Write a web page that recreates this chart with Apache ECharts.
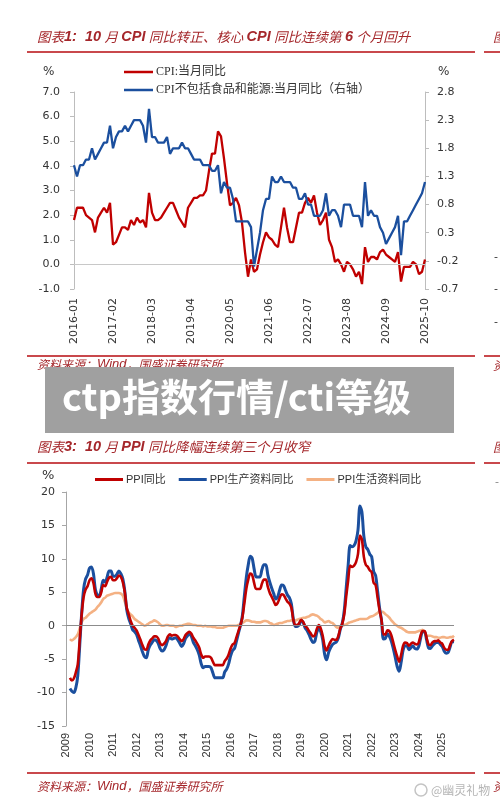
<!DOCTYPE html>
<html lang="zh-CN">
<head>
<meta charset="UTF-8">
<title>CPI / PPI</title>
<script src="https://cdn.jsdelivr.net/npm/echarts@6.0.0/dist/echarts.min.js"></script>
<style>
  html, body { margin: 0; padding: 0; background: #fff; }
  #chart { width: 500px; height: 802px; }
</style>
</head>
<body>
<div id="chart"></div>
<script>
// ---- 图表1: CPI (2016-01 ~ 2025-10) ----
var cpiName = 'CPI:当月同比';
var coreName = 'CPI不包括食品和能源:当月同比（右轴）';
var cpiYoY = [
  1.8,2.3,2.3,2.3,2.0,1.9,1.8,1.3,1.9,2.1,2.3,2.1,
  2.5,0.8,0.9,1.2,1.5,1.5,1.4,1.8,1.6,1.9,1.7,1.8,
  1.5,2.9,2.1,1.8,1.8,1.9,2.1,2.3,2.5,2.5,2.2,1.9,
  1.7,1.5,2.3,2.5,2.7,2.7,2.8,2.8,3.0,3.8,4.5,4.5,
  5.4,5.2,4.3,3.3,2.4,2.5,2.7,2.4,1.7,0.5,-0.5,0.2,
  -0.3,-0.2,0.4,0.9,1.3,1.1,1.0,0.8,0.7,1.5,2.3,1.5,
  0.9,0.9,1.5,2.1,2.1,2.5,2.7,2.5,2.8,2.1,1.6,1.8,
  2.1,1.0,0.7,0.1,0.2,0.0,-0.3,0.1,0.0,-0.2,-0.5,-0.3,
  -0.8,0.7,0.1,0.3,0.3,0.2,0.5,0.6,0.4,0.3,0.2,0.1,
  0.5,-0.7,-0.1,-0.1,-0.1,0.1,0.0,-0.4,-0.3,0.2
];
var coreYoY = [
  1.5,1.3,1.5,1.5,1.6,1.6,1.8,1.6,1.7,1.8,1.9,1.9,
  2.2,1.8,2.0,2.1,2.1,2.2,2.1,2.2,2.3,2.3,2.3,2.2,
  1.9,2.5,2.0,2.0,1.9,1.9,1.9,2.0,1.7,1.8,1.8,1.8,
  1.9,1.8,1.8,1.7,1.6,1.6,1.6,1.5,1.5,1.5,1.4,1.4,
  1.5,1.0,1.2,1.1,1.1,0.9,0.5,0.5,0.5,0.5,0.5,0.4,
  -0.3,0.0,0.3,0.7,0.9,0.9,1.3,1.2,1.2,1.3,1.2,1.2,
  1.2,1.1,1.1,0.9,0.9,1.0,0.8,0.8,0.6,0.6,0.6,0.7,
  1.0,0.6,0.7,0.7,0.6,0.4,0.8,0.8,0.8,0.6,0.6,0.6,
  0.4,1.2,0.6,0.7,0.6,0.6,0.4,0.3,0.1,0.2,0.3,0.4,
  0.6,-0.1,0.5,0.5,0.6,0.7,0.8,0.9,1.0,1.2
];

// ---- 图表3: PPI (2009-06 ~ 2025-10) ----
var ppiName = 'PPI同比';
var prodName = 'PPI生产资料同比';
var consName = 'PPI生活资料同比';
var ppiYoY = [
  -7.8,-8.2,-7.9,-7.0,-5.8,-2.1,1.7,
  4.3,5.4,5.9,6.8,7.1,6.4,4.8,4.3,4.3,5.0,6.1,5.9,
  6.6,7.2,7.3,6.8,6.8,7.1,7.5,7.3,6.5,5.0,2.7,1.7,
  0.7,0.0,-0.3,-0.7,-1.4,-2.1,-2.9,-3.5,-3.6,-2.8,-2.2,-1.9,
  -1.6,-1.6,-1.9,-2.6,-2.9,-2.7,-2.3,-1.6,-1.3,-1.5,-1.4,-1.4,
  -1.6,-2.0,-2.3,-2.0,-1.4,-1.1,-0.9,-1.2,-1.8,-2.2,-2.7,-3.3,
  -4.3,-4.8,-4.6,-4.6,-4.6,-4.8,-5.4,-5.9,-5.9,-5.9,-5.9,-5.9,
  -5.3,-4.9,-4.3,-3.4,-2.8,-2.6,-1.7,-0.8,0.1,1.2,3.3,5.5,
  6.9,7.8,7.6,6.4,5.5,5.5,5.5,6.3,6.9,6.9,5.8,4.9,
  4.3,3.7,3.1,3.4,4.1,4.7,4.6,4.1,3.6,3.3,2.7,0.9,
  0.1,0.1,0.4,0.9,0.6,0.0,-0.3,-0.8,-1.2,-1.6,-1.4,-0.5,
  0.1,-0.4,-1.5,-3.1,-3.7,-3.0,-2.4,-2.0,-2.1,-2.1,-1.5,-0.4,
  0.3,1.7,4.4,6.8,9.0,8.8,9.0,9.5,10.7,13.5,12.9,10.3,
  9.1,8.8,8.3,8.0,6.4,6.1,4.2,2.3,0.9,-1.3,-1.3,-0.7,
  -0.8,-1.4,-2.5,-3.6,-4.6,-5.4,-4.4,-3.0,-2.5,-2.6,-3.0,-2.7,
  -2.5,-2.7,-2.8,-2.5,-1.4,-0.8,-0.8,-1.8,-2.8,-2.9,-2.5,-2.3,
  -2.3,-2.2,-2.5,-2.7,-3.3,-3.6,-3.6,-2.9,-2.3,-2.1
];
var prodYoY = [
  -9.4,-9.8,-10.0,-9.3,-7.5,-3.0,1.9,
  5.5,7.0,7.6,8.6,8.8,7.8,5.4,4.6,4.5,5.5,6.8,6.5,
  7.3,8.2,8.2,7.4,7.4,7.7,8.2,7.8,7.0,5.2,2.4,1.1,
  0.3,-0.6,-0.9,-1.3,-2.2,-3.0,-3.9,-4.6,-4.8,-3.6,-2.9,-2.5,
  -2.1,-2.2,-2.6,-3.4,-3.8,-3.6,-3.0,-2.1,-1.8,-2.0,-1.9,-1.8,
  -2.1,-2.6,-3.1,-2.7,-1.9,-1.5,-1.2,-1.6,-2.5,-3.0,-3.6,-4.4,
  -5.7,-6.3,-6.1,-6.1,-6.1,-6.3,-7.1,-7.8,-7.8,-7.8,-7.8,-7.8,
  -6.9,-6.5,-5.7,-4.5,-3.7,-3.4,-2.3,-1.1,0.0,1.5,4.4,7.2,
  9.1,10.4,10.1,8.5,7.3,7.3,7.3,8.4,9.1,9.1,7.6,6.5,
  5.6,4.8,4.0,4.3,5.3,6.1,6.0,5.3,4.6,4.2,3.3,1.0,
  -0.1,-0.1,0.1,0.8,0.5,-0.3,-0.7,-1.3,-2.0,-2.5,-2.3,-1.0,
  -0.4,-0.9,-2.1,-4.3,-5.1,-4.0,-3.3,-2.8,-2.6,-2.4,-1.8,-0.5,
  0.4,2.3,5.7,9.1,12.0,11.8,12.0,12.7,14.3,17.9,17.0,13.4,
  11.8,11.4,10.7,10.3,8.1,7.5,5.2,2.7,0.8,-2.0,-1.9,-1.2,
  -1.6,-2.3,-3.4,-4.7,-6.1,-6.8,-5.5,-3.7,-3.0,-3.0,-3.6,-3.3,
  -3.0,-3.4,-3.5,-3.1,-1.8,-0.9,-0.9,-2.1,-3.3,-3.4,-3.0,-2.7,
  -2.5,-2.5,-2.8,-3.1,-3.8,-4.1,-4.0,-3.2,-2.4,-2.4
];
var consYoY = [
  -2.0,-2.2,-2.0,-1.7,-1.3,-0.4,0.5,
  1.0,1.2,1.5,1.8,2.0,2.2,2.4,2.8,3.1,3.5,4.0,4.2,
  4.5,4.6,4.7,4.8,4.9,4.9,4.9,4.8,4.5,3.6,2.6,2.0,
  1.7,1.4,1.0,0.8,0.6,0.4,0.2,0.0,0.1,0.3,0.5,0.6,
  0.8,0.7,0.5,0.2,0.0,0.0,0.1,0.1,0.0,0.0,0.0,-0.2,
  -0.1,0.0,0.0,0.1,0.2,0.3,0.3,0.2,0.1,0.1,0.0,0.0,
  0.0,-0.1,0.0,-0.1,-0.1,-0.1,-0.2,-0.2,-0.3,-0.3,-0.3,-0.3,
  -0.2,-0.1,0.0,0.0,0.0,0.0,0.0,0.1,0.2,0.4,0.6,0.8,
  0.8,0.7,0.6,0.6,0.5,0.5,0.5,0.6,0.7,0.7,0.6,0.4,
  0.3,0.1,0.2,0.3,0.4,0.4,0.5,0.6,0.7,0.7,0.8,0.8,
  0.8,0.9,1.0,1.1,1.2,1.2,1.3,1.4,1.6,1.7,1.6,1.5,
  1.3,1.0,0.8,0.5,0.6,0.7,0.5,0.4,0.1,-0.2,-0.3,-0.1,
  0.0,0.1,0.2,0.4,0.5,0.6,0.7,0.8,0.9,1.0,1.0,1.0,
  1.0,1.1,1.3,1.4,1.5,1.7,1.9,2.2,2.1,2.0,1.7,1.5,
  1.2,0.8,0.5,0.2,0.0,-0.2,-0.3,-0.5,-0.7,-0.9,-1.0,-1.0,
  -1.0,-1.0,-0.9,-0.8,-0.7,-0.6,-1.0,-1.5,-1.5,-1.5,-1.6,-1.7,
  -1.7,-1.8,-1.8,-1.7,-1.7,-1.8,-1.8,-1.7,-1.7,-1.5
];

// 月份类目
function monthList(y0, m0, y1, m1) {
  var out = [];
  for (var y = y0, m = m0; y < y1 || (y === y1 && m <= m1); ) {
    out.push(y + '-' + (m < 10 ? '0' + m : m));
    m++; if (m > 12) { m = 1; y++; }
  }
  return out;
}
var cpiMonths = monthList(2016, 1, 2025, 10);
var ppiMonths = monthList(2009, 4, 2025, 10);   // 前两个月留空
var ppiPad = ['-', '-'];

var RED = '#c00000', BLUE = '#1b4f9e', ORANGE = '#f4b183';
var TITLE_RED = '#a5272b', RULE_RED = '#c9484c';
var numFont = 'DejaVu Sans';

var chart = echarts.init(document.getElementById('chart'));

function txt(x, y, text, style, z) {
  return { type: 'text', x: x, y: y, z: z || 10, silent: true,
           style: Object.assign({ text: text, verticalAlign: 'middle' }, style) };
}
function rule(x1, x2, y) {
  return { type: 'line', silent: true, shape: { x1: x1, y1: y, x2: x2, y2: y },
           style: { stroke: RULE_RED, lineWidth: 2 } };
}
var richTitle = {
  a: { fontFamily: 'Noto Sans CJK SC', fontSize: 13.5, fontStyle: 'italic', fill: TITLE_RED, color: TITLE_RED },
  b: { fontFamily: 'Liberation Sans', fontSize: 14.5, fontStyle: 'italic', fontWeight: 'bold', fill: TITLE_RED, color: TITLE_RED }
};
var richSrc = {
  a: { fontFamily: 'Noto Sans CJK SC', fontSize: 12, fontStyle: 'italic', fill: TITLE_RED, color: TITLE_RED },
  b: { fontFamily: 'Liberation Sans', fontSize: 13, fontStyle: 'italic', fill: TITLE_RED, color: TITLE_RED }
};

var option = {
  animation: false,
  backgroundColor: '#fff',
  grid: [
    { left: 74, top: 92, width: 351, height: 197 },
    { left: 66, top: 492, width: 388, height: 234 }
  ],
  legend: [
    {
      orient: 'vertical', left: 124, top: 66, padding: 0, icon: 'rect',
      itemWidth: 29, itemHeight: 2.5, itemGap: 6,
      data: [cpiName, coreName],
      textStyle: { fontFamily: "'Liberation Serif','Noto Sans CJK SC'", fontSize: 12, color: '#333', padding: [0, 0, 0, -2] }
    },
    {
      left: 95, top: 474, padding: 0, icon: 'rect',
      itemWidth: 28, itemHeight: 3, itemGap: 13,
      data: [ppiName, prodName, consName],
      textStyle: { fontFamily: "'Liberation Sans','Noto Sans CJK SC'", fontSize: 11, color: '#333', padding: [0, 0, 0, -2] }
    }
  ],
  xAxis: [
    {
      gridIndex: 0, type: 'category', data: cpiMonths, boundaryGap: false,
      axisLine: { show: false }, axisTick: { show: false },
      axisLabel: { interval: 12, rotate: 90, margin: 9, fontFamily: numFont, fontSize: 11, color: '#333' }
    },
    {
      gridIndex: 1, type: 'category', data: ppiMonths, boundaryGap: false,
      axisLine: { show: false }, axisTick: { show: false },
      axisLabel: { interval: 11, rotate: 90, margin: 7, fontFamily: 'Liberation Sans', fontSize: 11, color: '#333',
                   formatter: function (v) { return v.slice(0, 4); } }
    }
  ],
  yAxis: [
    {
      gridIndex: 0, type: 'value', min: -1, max: 7, interval: 1,
      splitLine: { show: false },
      axisLine: { show: true, lineStyle: { color: '#bdbdbd' } },
      axisTick: { show: true, length: 4, lineStyle: { color: '#bdbdbd' } },
      axisLabel: { margin: 14, fontFamily: numFont, fontSize: 11, color: '#333',
                   formatter: function (v) { return v.toFixed(1); } }
    },
    {
      gridIndex: 0, type: 'value', position: 'right', min: -0.7, max: 2.8, interval: 0.5,
      splitLine: { show: false },
      axisLine: { show: true, lineStyle: { color: '#bdbdbd' } },
      axisTick: { show: true, length: 4, lineStyle: { color: '#bdbdbd' } },
      axisLabel: { margin: 12, fontFamily: numFont, fontSize: 11, color: '#333',
                   formatter: function (v) { return v.toFixed(1); } }
    },
    {
      gridIndex: 1, type: 'value', min: -15, max: 20, interval: 5,
      splitLine: { show: false },
      axisLine: { show: true, lineStyle: { color: '#a6a6a6' } },
      axisTick: { show: true, length: 4, lineStyle: { color: '#a6a6a6' } },
      axisLabel: { margin: 11, fontFamily: numFont, fontSize: 11, color: '#333' }
    }
  ],
  series: [
    {
      name: cpiName, type: 'line', xAxisIndex: 0, yAxisIndex: 0, data: cpiYoY,
      symbol: 'none', lineStyle: { color: RED, width: 2.3 }, itemStyle: { color: RED },
      markLine: { silent: true, symbol: ['none', 'none'], label: { show: false },
                  lineStyle: { color: '#c8c8c8', width: 1, type: 'solid' }, data: [{ yAxis: 0 }] }
    },
    {
      name: coreName, type: 'line', xAxisIndex: 0, yAxisIndex: 1, data: coreYoY,
      symbol: 'none', lineStyle: { color: BLUE, width: 2.3 }, itemStyle: { color: BLUE }
    },
    {
      name: consName, type: 'line', xAxisIndex: 1, yAxisIndex: 2, data: ppiPad.concat(consYoY),
      symbol: 'none', smooth: 0.3, lineStyle: { color: ORANGE, width: 2.6 }, itemStyle: { color: ORANGE },
      markLine: { silent: true, symbol: ['none', 'none'], label: { show: false },
                  lineStyle: { color: '#8c8c8c', width: 1, type: 'solid' }, data: [{ yAxis: 0 }] }
    },
    {
      name: prodName, type: 'line', xAxisIndex: 1, yAxisIndex: 2, data: ppiPad.concat(prodYoY),
      symbol: 'none', smooth: 0.3, lineStyle: { color: BLUE, width: 3 }, itemStyle: { color: BLUE }
    },
    {
      name: ppiName, type: 'line', xAxisIndex: 1, yAxisIndex: 2, data: ppiPad.concat(ppiYoY),
      symbol: 'none', smooth: 0.3, lineStyle: { color: RED, width: 2.6 }, itemStyle: { color: RED }
    }
  ],
  graphic: [
    // 标题与分隔线
    txt(37, 37, '{a|图表}{b|1:  10} {a|月} {b|CPI} {a|同比转正、核心} {b|CPI} {a|同比连续第} {b|6} {a|个月回升}', { rich: richTitle }),
    rule(27, 475, 52),
    txt(43, 72, '%', { font: '12px "DejaVu Sans"', fill: '#333' }),
    txt(438, 72, '%', { font: '12px "DejaVu Sans"', fill: '#333' }),
    rule(27, 475, 356),
    txt(37, 364, '{a|资料来源：}{b|Wind}{a|，国盛证券研究所}', { rich: richSrc }),
    txt(37, 447, '{a|图表}{b|3:  10} {a|月} {b|PPI} {a|同比降幅连续第三个月收窄}', { rich: richTitle }),
    rule(27, 475, 463),
    txt(42, 476, '%', { font: '13px "DejaVu Sans"', fill: '#333' }),
    rule(27, 475, 773),
    txt(37, 786, '{a|资料来源：}{b|Wind}{a|，国盛证券研究所}', { rich: richSrc }),
    // 右侧相邻图表的残边
    rule(484, 502, 52), rule(484, 502, 356), rule(484, 502, 463), rule(484, 502, 773),
    txt(493, 37, '图', { font: 'italic 13px "Noto Sans CJK SC"', fill: TITLE_RED }),
    txt(493, 365, '资', { font: 'italic 12px "Noto Sans CJK SC"', fill: TITLE_RED }),
    txt(493, 447, '图', { font: 'italic 13px "Noto Sans CJK SC"', fill: TITLE_RED }),
    txt(493, 786, '资', { font: 'italic 12px "Noto Sans CJK SC"', fill: TITLE_RED }),
    txt(494, 257, '-', { font: '11px "DejaVu Sans"', fill: '#333' }),
    txt(494, 289, '-', { font: '11px "DejaVu Sans"', fill: '#333' }),
    txt(494, 322, '-', { font: '11px "DejaVu Sans"', fill: '#333' }),
    txt(495, 482, '-', { font: '11px "DejaVu Sans"', fill: '#888' }),
    // 水印
    { type: 'circle', silent: true, z: 20, shape: { cx: 421, cy: 790, r: 6 },
      style: { fill: 'none', stroke: '#c4c4c4', lineWidth: 1.5 } },
    txt(431, 790, '@幽灵礼物', { font: '12px "Noto Sans CJK SC"', fill: '#b5b5b5' }, 20),
    // 横幅
    { type: 'rect', silent: true, z: 100, shape: { x: 45, y: 367, width: 409, height: 66 },
      style: { fill: '#a0a0a0' } },
    txt(62, 397, 'ctp指数行情/cti等级', { font: 'bold 38px "Noto Sans CJK SC"', fill: '#ffffff' }, 101)
  ]
};

chart.setOption(option);
</script>
</body>
</html>
